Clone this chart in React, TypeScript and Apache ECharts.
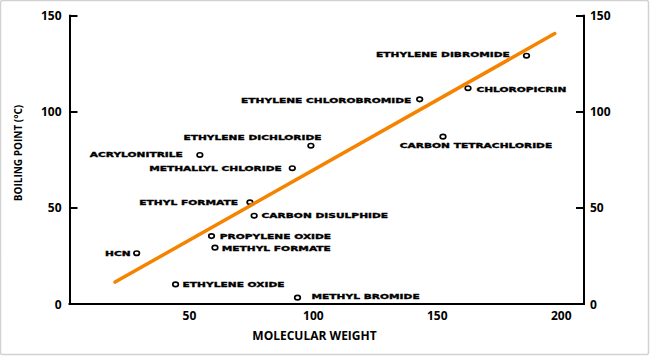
import React, { useEffect, useRef } from "react";
import * as echarts from "echarts";

const compounds = [
  "HCN",
  "ETHYLENE OXIDE",
  "ACRYLONITRILE",
  "METHALLYL CHLORIDE",
  "ETHYLENE DICHLORIDE",
  "ETHYL FORMATE",
  "CARBON DISULPHIDE",
  "PROPYLENE OXIDE",
  "METHYL FORMATE",
  "METHYL BROMIDE",
  "ETHYLENE CHLOROBROMIDE",
  "CARBON TETRACHLORIDE",
  "CHLOROPICRIN",
  "ETHYLENE DIBROMIDE",
];
const molecularWeight = [28.7, 44.4, 54.2, 91.5, 99, 74.4, 76.1, 58.9, 60.3, 93.6, 142.9, 152.3, 162.4, 186];
const boilingPoint = [26.4, 10.2, 77.5, 70.6, 82.3, 52.9, 45.9, 35.3, 29.3, 3.3, 106.4, 87, 112.2, 129.1];

const trendX = [20, 197.4];
const trendY = [11.4, 140.6];

const xTickLabels = [50, 100, 150, 200];

// label placement (pixel offsets from the marker, alignment)
const labelPlacement: Record<string, [number, number, string]> = {
  "HCN": [-6, 0, "right"],
  "ETHYLENE OXIDE": [7, 0, "left"],
  "ACRYLONITRILE": [-17, 0, "right"],
  "METHALLYL CHLORIDE": [-10.5, 0, "right"],
  "ETHYLENE DICHLORIDE": [10.7, -8.4, "right"],
  "ETHYL FORMATE": [-12, 0, "right"],
  "CARBON DISULPHIDE": [7.4, 0, "left"],
  "PROPYLENE OXIDE": [8.3, 0.5, "left"],
  "METHYL FORMATE": [6.7, 1.5, "left"],
  "METHYL BROMIDE": [14, -1, "left"],
  "ETHYLENE CHLOROBROMIDE": [-8.3, 1, "right"],
  "CARBON TETRACHLORIDE": [-43.3, 9, "left"],
  "CHLOROPICRIN": [8.4, 1.5, "left"],
  "ETHYLENE DIBROMIDE": [-16.7, -0.7, "right"],
};

const TICK_FONT = "'Open Sans', 'DejaVu Sans', sans-serif";
const LABEL_FONT = "'DejaVu Sans', sans-serif";

export default function App() {
  const ref = useRef<HTMLDivElement>(null);

  useEffect(() => {
    document.body.style.margin = "0";
    const chart = echarts.init(ref.current!, null, { renderer: "svg" });
    const xMin = 1.6;
    const xMax = 209.2;

    const axisLine = { show: true, lineStyle: { color: "#000", width: 2 } };
    const tickLabel = {
      color: "#000",
      fontSize: 12,
      fontWeight: "bold",
      fontFamily: TICK_FONT,
    };

    chart.setOption({
      animation: false,
      backgroundColor: "#fff",
      grid: { left: 69.5, right: 66, top: 15.5, bottom: 52, containLabel: false },
      xAxis: [
        {
          type: "value",
          position: "bottom",
          min: xMin,
          max: xMax,
          axisLine,
          axisTick: { show: false },
          splitLine: { show: false },
          axisLabel: { ...tickLabel, margin: 5, customValues: xTickLabels },
        },
        {
          type: "value",
          position: "top",
          min: xMin,
          max: xMax,
          axisLine,
          axisTick: { show: false },
          splitLine: { show: false },
          axisLabel: { show: false },
        },
      ],
      yAxis: [
        {
          type: "value",
          position: "left",
          min: 0,
          max: 150,
          interval: 50,
          axisLine,
          axisTick: { show: true, inside: true, length: 8, lineStyle: { color: "#000", width: 2 } },
          splitLine: { show: false },
          axisLabel: { ...tickLabel, margin: 8 },
        },
        {
          type: "value",
          position: "right",
          min: 0,
          max: 150,
          interval: 50,
          axisLine,
          axisTick: { show: true, inside: true, length: 8, lineStyle: { color: "#000", width: 2 } },
          splitLine: { show: false },
          axisLabel: { ...tickLabel, margin: 6 },
        },
      ],
      graphic: [
        {
          type: "rect",
          shape: { x: 0.5, y: 0.5, width: 648, height: 354, r: 2 },
          style: { fill: "none", stroke: "#d2d2d2", lineWidth: 1.5 },
          silent: true,
        },
        {
          type: "text",
          x: 18,
          y: 153,
          rotation: Math.PI / 2,
          style: {
            text: "BOILING POINT (°C)",
            fontSize: 10,
            fontWeight: "bold",
            fontFamily: TICK_FONT,
            fill: "#000",
            align: "center",
            verticalAlign: "middle",
          },
        },
        {
          type: "text",
          x: 314.5,
          y: 335.7,
          style: {
            text: "MOLECULAR WEIGHT",
            fontSize: 12,
            fontWeight: "bold",
            fontFamily: TICK_FONT,
            fill: "#000",
            align: "center",
            verticalAlign: "middle",
          },
        },
      ],
      series: [
        {
          type: "custom",
          xAxisIndex: 0,
          yAxisIndex: 0,
          clip: false,
          encode: { x: 0, y: 1 },
          data: molecularWeight.map((x, i) => [x, boilingPoint[i], i]),
          renderItem: (params: any, api: any) => {
            const p = api.coord([api.value(0), api.value(1)]);
            const name = compounds[api.value(2)];
            const [dx, dy, align] = labelPlacement[name];
            return {
              type: "group",
              children: [
                {
                  type: "ellipse",
                  shape: { cx: p[0], cy: p[1], rx: 2.8, ry: 2.2 },
                  style: { fill: "#fff", stroke: "#000", lineWidth: 1.7 },
                },
                {
                  type: "text",
                  x: p[0] + dx,
                  y: p[1] + dy,
                  scaleX: 1.52,
                  scaleY: 1,
                  style: {
                    text: name,
                    fontSize: 7,
                    fontWeight: "bold",
                    fontFamily: LABEL_FONT,
                    fill: "#000",
                    stroke: "#000",
                    lineWidth: 0.35,
                    align,
                    verticalAlign: "middle",
                  },
                },
              ],
            };
          },
          z: 2,
        },
        {
          type: "line",
          xAxisIndex: 0,
          yAxisIndex: 0,
          data: trendX.map((x, i) => [x, trendY[i]]),
          symbol: "none",
          lineStyle: { color: "#f58300", width: 3.5, cap: "round" },
          z: 3,
        },
      ],
    });

    return () => chart.dispose();
  }, []);

  return <div ref={ref} style={{ width: 650, height: 356 }} />;
}
